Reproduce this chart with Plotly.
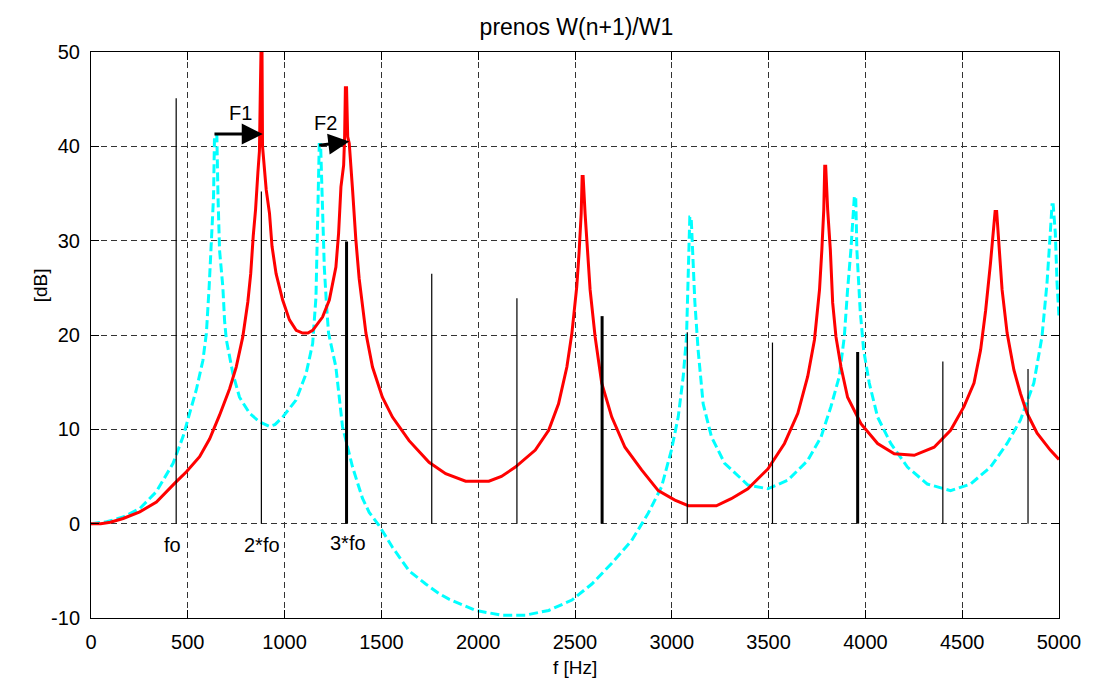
import plotly.graph_objects as go

# ---------------- data ----------------
red_f = [0, 50, 100, 166, 252, 338, 433, 493, 561, 613, 664, 716, 750, 784, 810, 825, 838,
         850, 862, 870, 874, 878, 882, 886, 893, 905, 922, 935, 956, 990, 1025, 1060, 1093,
         1120, 1145, 1196, 1231, 1265, 1279, 1291, 1305, 1310, 1314, 1320, 1326, 1334, 1351,
         1368, 1385, 1420, 1454, 1505, 1557, 1643, 1746, 1832, 1935, 2055, 2120, 2192, 2295,
         2364, 2415, 2458, 2484, 2509, 2521, 2532, 2537, 2542, 2552, 2566, 2578, 2604, 2638,
         2690, 2758, 2844, 2930, 3016, 3085, 3160, 3230, 3307, 3393, 3496, 3582, 3651, 3702,
         3737, 3763, 3775, 3785, 3790, 3795, 3805, 3819, 3831, 3848, 3874, 3908, 3977, 4063,
         4149, 4252, 4355, 4440, 4509, 4561, 4595, 4621, 4646, 4660, 4670, 4678, 4689, 4706,
         4732, 4767, 4801, 4835, 4887, 4955, 5000]
red_db = [0, 0, 0.15, 0.55, 1.25, 2.3, 4.3, 5.5, 7.1, 9.0, 11.5, 14.3, 16.6, 19.8, 23.5, 26.5,
          30.5, 33.3, 37.2, 39.5, 45, 55, 55, 40, 38, 35.4, 32.9, 29.4, 26.5, 23.7, 21.6, 20.5,
          20.2, 20.2, 20.5, 21.9, 23.7, 27.2, 30.8, 35.7, 38, 41, 46.2, 46.2, 41, 40.3, 35.4,
          30.1, 26, 20.2, 16.6, 13.4, 11.3, 8.8, 6.5, 5.3, 4.5, 4.5, 5.0, 6.0, 7.8, 9.9, 12.7,
          16.6, 20.2, 25.1, 28.7, 32.9, 36.8, 36.8, 32.9, 28.3, 24.8, 19.8, 14.9, 11.3, 8.1,
          5.7, 3.5, 2.5, 1.9, 1.9, 1.9, 2.65, 3.7, 5.8, 8.5, 11.7, 15.6, 19.5, 24.8, 29.0,
          33.3, 37.9, 37.9, 33.3, 29.0, 23.4, 19.8, 16.6, 13.4, 10.6, 8.5, 7.4, 7.25, 8.1, 9.9,
          12.4, 14.9, 18.4, 22.6, 27.6, 31, 33.1, 33.1, 29.8, 24.8, 20.2, 16.3, 13.8, 11.7,
          9.6, 7.8, 6.8]

cyan_f = [0, 81, 166, 252, 338, 424, 475, 510, 544, 578, 596, 610, 621, 633, 638, 650, 656,
          664, 681, 690, 699, 733, 767, 819, 870, 922, 950, 990, 1059, 1111, 1145, 1162, 1171,
          1179, 1186, 1196, 1205, 1217, 1227, 1265, 1299, 1351, 1385, 1402, 1437, 1488, 1557,
          1643, 1729, 1797, 1849, 1986, 2123, 2243, 2364, 2484, 2587, 2690, 2792, 2878, 2947,
          2998, 3033, 3059, 3076, 3081, 3088, 3093, 3100, 3110, 3119, 3136, 3162, 3205, 3273,
          3393, 3496, 3599, 3702, 3771, 3822, 3865, 3891, 3908, 3925, 3943, 3950, 3956, 3973,
          3991, 4020, 4063, 4131, 4217, 4320, 4440, 4543, 4646, 4732, 4801, 4870, 4912, 4938,
          4955, 4964, 4970, 4981, 4990, 5000]
cyan_db = [0, 0.2, 0.7, 1.6, 3.4, 6.4, 9.2, 11.7, 14.2, 17.3, 20.2, 25, 29.0, 34.7, 41.2,
           41.2, 34.7, 29.0, 25.1, 21.5, 19.5, 15.9, 13.4, 11.7, 10.8, 10.3, 10.5, 11.3, 13.1,
           15.9, 19.1, 24, 32.5, 40.2, 40.2, 33.6, 27.2, 23.0, 20.2, 16.6, 10.3, 6.0, 3.8, 2.7,
           1.2, -0.2, -2.5, -5.0, -6.4, -7.4, -8.0, -9.2, -9.7, -9.7, -9.2, -8.1, -6.4, -4.2,
           -1.8, 1.1, 3.9, 7.8, 11.3, 15.6, 19.8, 23.4, 28.0, 32.5, 32.5, 28.2, 23.5, 18.4,
           12.7, 9.2, 6.4, 4.1, 3.7, 4.6, 6.7, 9.2, 12.4, 15.6, 19.8, 24.8, 29.0, 34.7, 34.7,
           29, 22.6, 18.4, 14.9, 11.3, 8.5, 6.0, 4.2, 3.5, 4.2, 6.0, 8.5, 11.0, 14.9, 19.8,
           25.5, 30.8, 33.8, 33.8, 30.8, 25.5, 21.9]

stem_f = [440, 880, 1320, 1760, 2200, 2640, 3080, 3520, 3960, 4400, 4840]
stem_db = [45.1, 35.2, 29.9, 26.5, 23.9, 22.0, 20.3, 19.2, 18.2, 17.2, 16.4]
stem_thick = [False, False, True, False, False, True, False, False, True, False, False]

harm_labels = ["fo", "2*fo", "3*fo"]
harm_label_f = [420, 883, 1329]
harm_label_db = [-2.3, -2.3, -2.1]

arrow_names = ["F1", "F2"]
arrow_tail_f = [630, 1171]
arrow_tail_db = [41.3, 40.1]
arrow_tip_f = [887, 1334]
arrow_tip_db = [41.3, 40.5]
arrow_label_f = [771, 1210]
arrow_label_db = [43.5, 42.5]

x_ticks = list(range(0, 5001, 500))
x_tick_text = [str(v) for v in x_ticks]
y_ticks = list(range(-10, 51, 10))
y_tick_text = ["-10", "0", "10", "20", "30", "40", "50"]

FONT = "Liberation Sans, Arial, Helvetica, sans-serif"

fig = go.Figure()

fig.add_trace(go.Scatter(x=cyan_f, y=cyan_db, mode="lines",
                         line=dict(color="#00FFFF", width=3, dash="9px,4px"),
                         showlegend=False, hoverinfo="skip"))
fig.add_trace(go.Scatter(x=red_f, y=red_db, mode="lines",
                         line=dict(color="#FF0000", width=3),
                         showlegend=False, hoverinfo="skip"))

for thick in (False, True):
    xs, ys = [], []
    for f, h, t in zip(stem_f, stem_db, stem_thick):
        if t == thick:
            xs += [f, f, None]
            ys += [0, h, None]
    fig.add_trace(go.Scatter(x=xs, y=ys, mode="lines",
                             line=dict(color="black", width=3 if thick else 1.2),
                             showlegend=False, hoverinfo="skip"))

annotations = []
for t, f, d in zip(harm_labels, harm_label_f, harm_label_db):
    annotations.append(dict(x=f, y=d, xref="x", yref="y", text=t, showarrow=False,
                            font=dict(family=FONT, size=20, color="black"),
                            xanchor="center", yanchor="middle"))
for n, tf, td, hf, hd, lf, ld in zip(arrow_names, arrow_tail_f, arrow_tail_db,
                                     arrow_tip_f, arrow_tip_db,
                                     arrow_label_f, arrow_label_db):
    annotations.append(dict(x=hf, y=hd, ax=tf, ay=td, xref="x", yref="y",
                            axref="x", ayref="y", text="", showarrow=True,
                            arrowhead=2, arrowsize=1.4, arrowwidth=3,
                            arrowcolor="black"))
    annotations.append(dict(x=lf, y=ld, xref="x", yref="y", text=n, showarrow=False,
                            font=dict(family=FONT, size=20, color="black"),
                            xanchor="center", yanchor="middle"))

annotations.append(dict(x=-0.0525, y=0.588, xref="paper", yref="paper", text="[dB]",
                        textangle=-90, showarrow=False,
                        font=dict(family=FONT, size=19, color="black"),
                        xanchor="center", yanchor="middle"))
annotations.append(dict(x=0.5, y=-0.087, xref="paper", yref="paper", text="f [Hz]",
                        showarrow=False, font=dict(family=FONT, size=19, color="black"),
                        xanchor="center", yanchor="middle"))

axis_common = dict(showline=True, linecolor="black", linewidth=1, mirror="ticks",
                   ticks="inside", ticklen=8, tickcolor="black", tickwidth=1,
                   showgrid=True, gridcolor="#333333", gridwidth=1, griddash="6px,4px",
                   zeroline=False, tickfont=dict(family=FONT, size=20, color="black"),
                   ticklabelstandoff=6)

fig.update_layout(
    width=1093, height=681,
    margin=dict(l=91, r=31, t=52, b=63),
    paper_bgcolor="white", plot_bgcolor="white",
    title=dict(text="prenos W(n+1)/W1", x=0.5274, xanchor="center",
               y=1 - 27 / 681, yanchor="middle", yref="container",
               font=dict(family=FONT, size=23, color="black")),
    xaxis=dict(range=[0, 5000], tickvals=x_ticks, ticktext=x_tick_text, **axis_common),
    yaxis=dict(range=[-10, 50], tickvals=y_ticks, ticktext=y_tick_text, **axis_common),
    annotations=annotations,
)

fig.write_html("out.html", config={"displayModeBar": False},
               post_script="document.body.style.margin='0';")
